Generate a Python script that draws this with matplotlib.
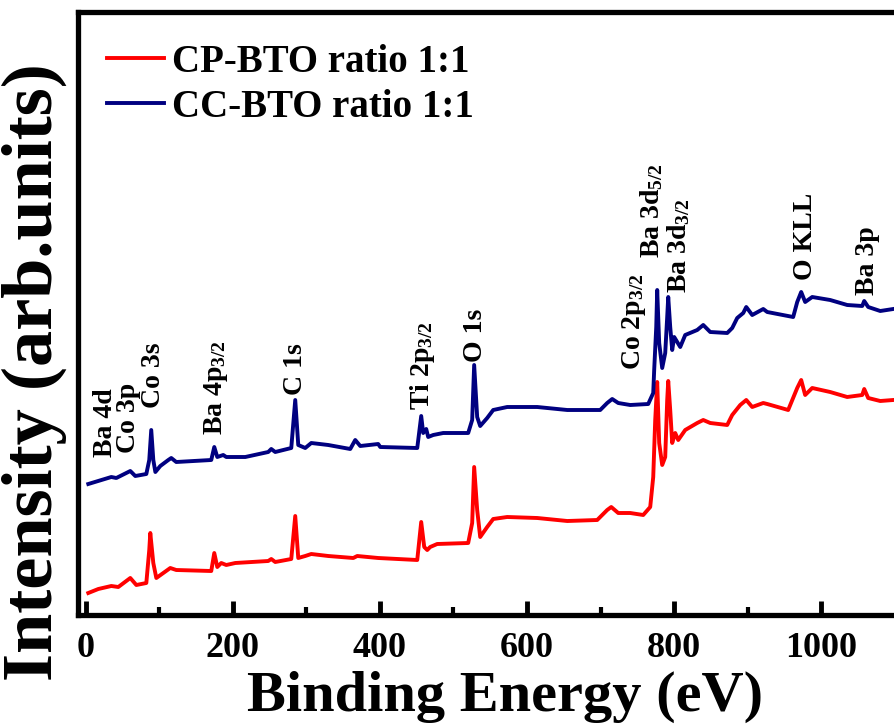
import matplotlib
matplotlib.use("Agg")
import matplotlib.pyplot as plt

plt.rcParams.update({
    "font.family": ["Liberation Serif", "DejaVu Serif"],
    "font.weight": "bold",
    "mathtext.fontset": "custom",
    "mathtext.rm": "Liberation Serif:bold",
    "mathtext.default": "rm",
})

# * espectro CC-BTO (energia de enlace eV, intensidad u.a.)
cc_energia = [3.4, 34.7, 41.5, 60.5, 67.3, 82.3, 86.3, 89, 91.8, 94.6, 101.3, 112.2, 116.2, 123,
              170.6, 174.7, 178.8, 186.9, 191, 216.9, 248.1, 252.2, 257.6, 279.4, 284.8, 288.9,
              298.4, 306.6, 329.7, 359.6, 366.4, 373.2, 397.6, 400.4, 450.7, 456.1, 458.8, 462.9,
              465.6, 472.4, 486, 520, 525.4, 528.1, 532.2, 536.3, 545.8, 554, 573, 613.9, 654.7,
              699.5, 709, 715.8, 724, 740.3, 764.8, 771.6, 772.9, 775.7, 777, 779.7, 783.8, 787.9,
              790.6, 792, 794.7, 797.4, 800.1, 804.2, 808.3, 815.1, 831.4, 839.6, 849.1, 872.2,
              879, 885.8, 894, 898.1, 906.2, 921.2, 926.6, 961.9, 967.4, 972.8, 978.2, 987.8,
              1012.2, 1035.4, 1055.8, 1058.5, 1063.9, 1080.3, 1098]
cc_intensidad = [131, 138, 137, 144, 139, 141, 155, 185, 155, 143, 149, 155, 157, 153,
                 155, 168, 158, 160, 158, 158, 163, 166, 163, 167, 215, 170,
                 167, 172, 170, 166, 175, 169, 171, 168, 167, 199, 182, 186,
                 178, 180, 182, 182, 195, 250, 198, 189, 197, 205, 208, 208, 205,
                 205, 212, 216, 212, 210, 211, 222, 245, 288, 325, 272, 247, 262,
                 298, 318, 288, 265, 278, 273, 268, 280, 285, 290, 283, 282,
                 287, 297, 302, 308, 300, 306, 303, 298, 313, 323, 313, 318,
                 315, 310, 309, 314, 308, 304, 306]

# * espectro CP-BTO
cp_energia = [3.4, 17, 34.7, 44.2, 60.5, 68.7, 82.3, 86.3, 87.7, 91.8, 95.9, 105.4, 114.9, 123,
              170.6, 174.7, 178.8, 184.2, 191, 203.3, 248.1, 252.2, 257.6, 279.4, 284.8, 288.9,
              298.4, 306.6, 329.7, 363.7, 369.1, 397.6, 450.7, 456.1, 460.2, 464.3, 468.3, 477.8,
              520, 525.4, 528.1, 532.2, 536.3, 545.8, 554, 573, 613.9, 654.7, 695.4, 709, 714.5,
              724, 740.3, 758, 767.5, 771.6, 774.3, 777, 779.7, 783.8, 787.9, 790.6, 792, 794.7,
              797.4, 801.5, 805.6, 815.1, 831.4, 839.6, 849.1, 872.2, 879, 889.9, 898.1, 906.2,
              921.2, 926.6, 955.1, 967.4, 972.8, 978.2, 987.8, 1012.2, 1035.4, 1055.8, 1058.5,
              1063.9, 1080.3, 1098]
cp_intensidad = [22, 26, 29, 28, 37, 30, 32, 65, 82, 52, 37, 42, 47, 45,
                 44, 62, 48, 52, 50, 52, 54, 56, 53, 56, 99, 57,
                 59, 61, 59, 57, 59, 57, 55, 93, 68, 65, 68, 71,
                 72, 92, 148, 105, 78, 88, 96, 98, 97, 94, 95, 105, 108,
                 102, 102, 100, 108, 138, 195, 233, 172, 150, 158, 215, 234, 205,
                 172, 182, 175, 185, 192, 195, 192, 190, 200, 210, 215, 208,
                 212, 211, 205, 227, 235, 220, 227, 223, 218, 220, 226,
                 217, 214, 215]

# * etiquetas de picos: texto, energia, altura
picos_texto = ["Ba 4d", "Co 3p", "Co 3s", "Ba 4p$_{3/2}$", "C 1s", "Ti 2p$_{3/2}$", "O 1s",
               "Co 2p$_{3/2}$", "Ba 3d$_{5/2}$", "Ba 3d$_{3/2}$", "O KLL", "Ba 3p"]
picos_x = [26.5, 57.8, 92.5, 177, 285.5, 458, 530.5, 745, 770, 806, 978, 1062.5]
picos_y = [158, 162, 207, 180, 220, 205, 253, 245, 357, 322, 335, 320]


def main():
    fig = plt.figure(figsize=(8.94, 7.27), dpi=100)
    ax = fig.add_axes([78 / 894, 112 / 727, 816 / 894, 603 / 727])

    ax.plot(cp_energia, cp_intensidad, color="#ff0000", lw=2.8, label="CP-BTO ratio 1:1")
    ax.plot(cc_energia, cc_intensidad, color="#000080", lw=2.8, label="CC-BTO ratio 1:1")

    for texto, x, y in zip(picos_texto, picos_x, picos_y):
        ax.text(x, y, texto, rotation=90, ha="center", va="bottom", fontsize=20,
                fontweight="bold")

    ax.set_xlim(-10.6, 1099)
    ax.set_ylim(0, 603)
    ax.set_yticks([])
    ax.set_xticks([0, 200, 400, 600, 800, 1000])
    ax.set_xticks([100, 300, 500, 700, 900], minor=True)
    ax.tick_params(axis="x", which="major", direction="in", length=10, width=3.5,
                   labelsize=26, pad=12)
    ax.tick_params(axis="x", which="minor", direction="in", length=6, width=3)
    for lado in ["left", "bottom", "top"]:
        ax.spines[lado].set_linewidth(3.8)
    ax.spines["right"].set_visible(False)

    ax.set_xlabel("Binding Energy (eV)", fontsize=42, fontweight="bold")
    ax.xaxis.set_label_coords(0.523, -0.093)
    ax.set_ylabel("Intensity (arb.units)", fontsize=52, fontweight="bold")
    ax.yaxis.set_label_coords(-0.013, 0.403)

    ax.legend(loc="upper left", bbox_to_anchor=(0.036, 0.947), frameon=False, fontsize=28,
              handlelength=1.45, handletextpad=0.2, labelspacing=0.2, borderaxespad=0,
              borderpad=0)

    fig.savefig("out.png", dpi=100)


if __name__ == "__main__":
    main()
